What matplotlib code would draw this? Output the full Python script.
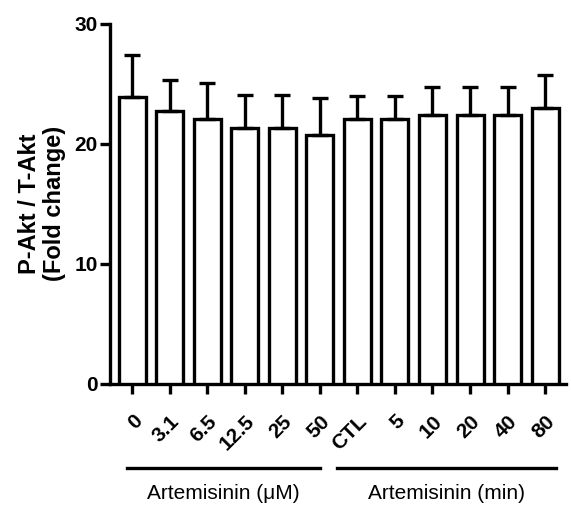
import numpy as np
import matplotlib.pyplot as plt

plt.rcParams['font.family'] = ['Liberation Sans', 'DejaVu Sans']

labels = ['0', '3.1', '6.5', '12.5', '25', '50', 'CTL', '5', '10', '20', '40', '80']
means = [23.9, 22.7, 22.1, 21.3, 21.3, 20.7, 22.1, 22.1, 22.4, 22.4, 22.4, 23.0]
errs = [3.5, 2.6, 3.0, 2.8, 2.8, 3.1, 1.9, 1.9, 2.3, 2.3, 2.3, 2.7]
groups = ['Artemisinin (\u03bcM)', 'Artemisinin (min)']

fig = plt.figure(figsize=(5.71, 5.07), dpi=100)
ax = fig.add_axes([0.193, 0.243, 0.799, 0.710])

x = np.arange(len(labels))
ax.bar(x, means, width=0.72, color='white', edgecolor='black', linewidth=2.4,
       yerr=[np.zeros(len(errs)), errs], capsize=6,
       error_kw=dict(elinewidth=2.4, capthick=2.4, ecolor='black'), zorder=3)

ax.set_xlim(-0.59, 11.57)
ax.set_ylim(0, 30)
ax.set_yticks([0, 10, 20, 30])
ax.set_xticks(x)
ax.set_xticklabels(labels, rotation=45, ha='right', rotation_mode='anchor',
                   fontsize=15, fontweight='bold')
for t in ax.get_yticklabels():
    t.set_fontsize(15)
    t.set_fontweight('bold')
ax.tick_params(axis='both', width=2.4, length=7, pad=2)
ax.tick_params(axis='x', pad=13)

for s in ['top', 'right']:
    ax.spines[s].set_visible(False)
for s in ['left', 'bottom']:
    ax.spines[s].set_linewidth(2.4)

ax.set_ylabel('P-Akt / T-Akt\n(Fold change)', fontsize=17, fontweight='bold',
              labelpad=6, linespacing=1.1)

tr = ax.get_xaxis_transform()
spans = [(-0.15, 5.0), (5.45, 11.3)]
for (a, b), g in zip(spans, groups):
    ax.plot([a, b], [-0.233, -0.233], color='black', lw=2.4,
            transform=tr, clip_on=False)
    ax.text((a + b) / 2, -0.305, g, transform=tr, ha='center', va='center',
            fontsize=15)

plt.savefig('out.png', dpi=100)
